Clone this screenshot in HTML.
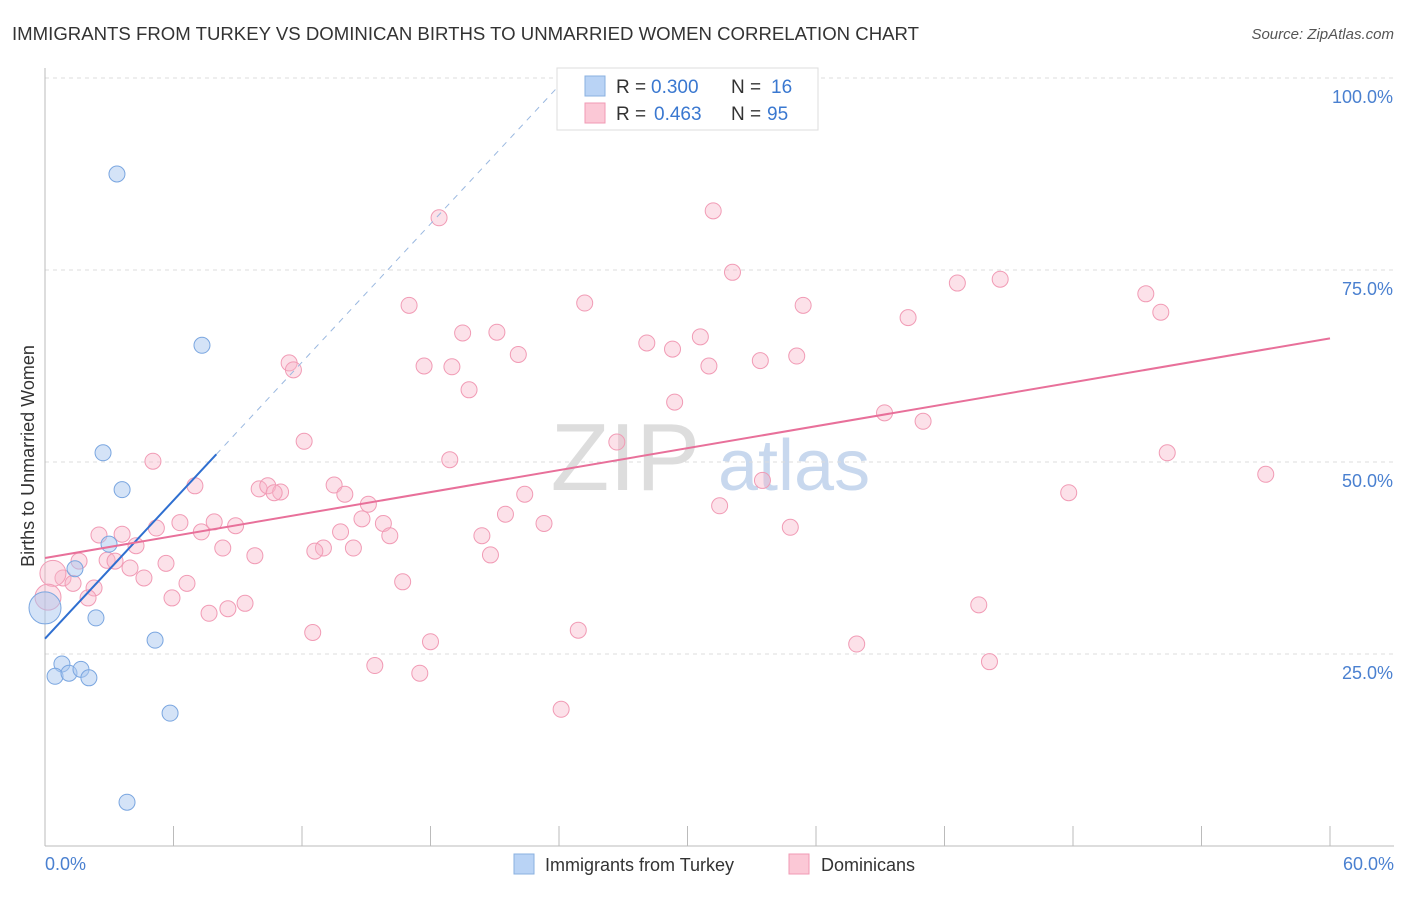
<!DOCTYPE html>
<html><head><meta charset="utf-8"><style>
body{margin:0;background:#fff;font-family:"Liberation Sans",sans-serif;}
svg text{font-family:"Liberation Sans",sans-serif;}
</style></head><body>
<svg width="1406" height="892">
<text x="12" y="40" font-size="18" fill="#333" textLength="907" lengthAdjust="spacingAndGlyphs">IMMIGRANTS FROM TURKEY VS DOMINICAN BIRTHS TO UNMARRIED WOMEN CORRELATION CHART</text>
<text x="1394" y="39" font-size="15" fill="#555" font-style="italic" text-anchor="end">Source: ZipAtlas.com</text>
<text x="700" y="490" font-size="96" fill="#ddd" text-anchor="end" font-family="Liberation Serif">ZIP</text>
<text x="718" y="490" font-size="72" fill="#c8d8ee">atlas</text>
<g id="grid"></g><g id="axes"></g><g id="marks"></g>
<text transform="translate(34,456) rotate(-90)" font-size="18" fill="#333" text-anchor="middle">Births to Unmarried Women</text>
<text x="45" y="870" font-size="18" fill="#4a80d0">0.0%</text>
<text x="1394" y="870" font-size="18" fill="#4a80d0" text-anchor="end">60.0%</text>
<g>
<rect x="557" y="68" width="261" height="62" fill="#fff" stroke="#ddd"/>
<rect x="585" y="76" width="20" height="20" fill="#b9d3f5" stroke="#8ab0e0"/>
<rect x="585" y="103" width="20" height="20" fill="#fbc8d6" stroke="#f09ab4"/>
<text x="616" y="93" font-size="19" fill="#333">R =</text>
<text x="651" y="93" font-size="19" fill="#3a78d0">0.300</text>
<text x="731" y="93" font-size="19" fill="#333">N =</text>
<text x="771" y="93" font-size="19" fill="#3a78d0">16</text>
<text x="616" y="120" font-size="19" fill="#333">R =</text>
<text x="654" y="120" font-size="19" fill="#3a78d0">0.463</text>
<text x="731" y="120" font-size="19" fill="#333">N =</text>
<text x="767" y="120" font-size="19" fill="#3a78d0">95</text>
</g>
<g>
<rect x="514" y="854" width="20" height="20" fill="#b9d3f5" stroke="#8ab0e0"/>
<text x="545" y="871" font-size="18" fill="#333">Immigrants from Turkey</text>
<rect x="789" y="854" width="20" height="20" fill="#fbc8d6" stroke="#f09ab4"/>
<text x="821" y="871" font-size="18" fill="#333">Dominicans</text>
</g>
</svg>
<script>
const yTicks=[25,50,75,100];
const yTickLabels=["25.0%","50.0%","75.0%","100.0%"];
const xTicks=[0,6,12,18,24,30,36,42,48,54,60];
const turkeyX=[3.36,7.33,2.71,3.6,2.99,1.4,2.38,5.14,0.79,0.47,1.12,1.68,2.05,5.84,3.83,0];
const turkeyY=[87.5,65.2,51.2,46.4,39.3,36.1,29.7,26.8,23.7,22.1,22.5,23,21.9,17.3,5.7,31];
const domX=[18.4,31.2,32.1,17,25.2,35.4,42.6,44.6,51.4,52.1,40.3,19.5,21.1,30.6,28.1,29.3,22.1,35.1,33.4,31,17.7,19,11.4,11.6,19.8,29.4,39.2,41,12.1,26.7,5.04,18.9,52.4,57,33.5,7,13.5,47.8,10,10.4,11,10.7,14,22.4,15.1,31.5,21.5,14.8,6.3,7.9,8.9,15.8,5.2,7.3,23.3,34.8,20.4,2.52,3.6,16.1,13.8,4.25,8.3,13,12.6,14.4,20.8,9.8,1.59,2.9,3.27,5.65,3.97,4.62,0.84,6.63,1.31,16.7,2.29,5.93,2.01,9.34,8.54,7.66,43.6,24.9,12.5,18,37.9,15.4,44.1,17.5,24.1,0.37,0.14];
const domY=[81.8,82.7,74.7,70.4,70.7,70.4,73.3,73.8,71.9,69.5,68.8,66.8,66.9,66.3,65.5,64.7,64,63.8,63.2,62.5,62.5,62.4,62.9,62,59.4,57.8,56.4,55.3,52.7,52.6,50.1,50.3,51.2,48.4,47.6,46.9,47,46,46.5,46.9,46.1,46,45.8,45.8,44.5,44.3,43.2,42.6,42.1,42.2,41.7,42,41.4,40.9,42,41.5,40.4,40.5,40.6,40.4,40.9,39.1,38.8,38.8,38.4,38.8,37.9,37.8,37.1,37.2,37.1,36.8,36.2,34.9,34.9,34.2,34.2,34.4,33.6,32.3,32.3,31.6,30.9,30.3,31.4,28.1,27.8,26.6,26.3,23.5,24,22.5,17.8,35.5,32.4];
const turkeyLine=[0,27,8,51];
const domLine=[0,37.5,60,66.1];
const ns="http://www.w3.org/2000/svg";
const X=v=>45+v/60*1285, Y=v=>846-v/100*768;
function mk(tag,attrs,parent){const e=document.createElementNS(ns,tag);for(const k in attrs)e.setAttribute(k,attrs[k]);document.getElementById(parent).appendChild(e);return e;}
yTicks.forEach((t,i)=>{
 const l=mk('line',{x1:45,x2:1394,y1:Y(t),y2:Y(t),stroke:'#ddd','stroke-dasharray':'4,4'},'grid');
 
 
 const tx=mk('text',{x:1393,y:Y(t)+25,'font-size':18,fill:'#4a80d0','text-anchor':'end'},'axes');
 tx.textContent=yTickLabels[i];
 
 
});
const ax=mk('line',{x1:45,x2:45,y1:68,y2:846,stroke:'#bbb'},'axes');


const bx=mk('line',{x1:45,x2:1394,y1:846,y2:846,stroke:'#bbb'},'axes');


xTicks.forEach(t=>{const l=mk('line',{x1:X(t),x2:X(t),y1:826,y2:846,stroke:'#bbb'},'axes');
 
 });
domX.forEach((v,i)=>{const big=i>=domX.length-2;
 const c=mk('circle',{cx:X(v),cy:Y(domY[i]),r:big?13:8,fill:'rgba(248,180,200,0.4)',stroke:'#f19bb5','stroke-width':1},'marks');
 
 });
turkeyX.forEach((v,i)=>{const big=i==turkeyX.length-1;
 const c=mk('circle',{cx:X(v),cy:Y(turkeyY[i]),r:big?16:8,fill:'rgba(170,200,240,0.5)',stroke:'#7aa6e0','stroke-width':1},'marks');
 
 });
const slope=(turkeyLine[3]-turkeyLine[1])/(turkeyLine[2]-turkeyLine[0]);
const xEnd=turkeyLine[0]+(100-turkeyLine[1])/slope;
const d=mk('line',{x1:X(turkeyLine[2]),y1:Y(turkeyLine[3]),x2:X(xEnd),y2:Y(100),stroke:'#9ab8e0','stroke-dasharray':'6,6'},'marks');


const t1=mk('line',{x1:X(turkeyLine[0]),y1:Y(turkeyLine[1]),x2:X(turkeyLine[2]),y2:Y(turkeyLine[3]),stroke:'#2f6fd0','stroke-width':2},'marks');


const t2=mk('line',{x1:X(domLine[0]),y1:Y(domLine[1]),x2:X(domLine[2]),y2:Y(domLine[3]),stroke:'#e8709a','stroke-width':2},'marks');


</script>
</body></html>
